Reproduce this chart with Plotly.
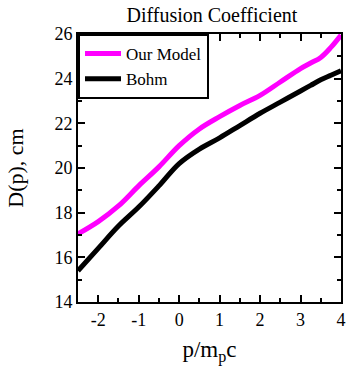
import plotly.graph_objects as go

p_values = [-2.5, -2.0, -1.5, -1.0, -0.5, 0.0, 0.5, 1.0, 1.5, 2.0, 2.5, 3.0, 3.25, 3.5, 3.75, 4.0]
our_model = [17.05, 17.6, 18.3, 19.2, 20.05, 21.0, 21.75, 22.3, 22.8, 23.25, 23.85, 24.45, 24.7, 24.95, 25.4, 25.95]
bohm = [15.4, 16.4, 17.4, 18.25, 19.2, 20.2, 20.85, 21.35, 21.9, 22.45, 22.95, 23.45, 23.7, 23.95, 24.15, 24.35]

x_ticks = [-2, -1, 0, 1, 2, 3, 4]
x_tick_labels = ["-2", "-1", "0", "1", "2", "3", "4"]
y_ticks = [14, 16, 18, 20, 22, 24, 26]
y_tick_labels = ["14", "16", "18", "20", "22", "24", "26"]

FONT = "Liberation Serif"

fig = go.Figure()
fig.add_trace(go.Scatter(x=p_values, y=our_model, mode="lines", name="Our Model",
                         line=dict(color="#ff00ff", width=5, shape="spline")))
fig.add_trace(go.Scatter(x=p_values, y=bohm, mode="lines", name="Bohm",
                         line=dict(color="black", width=5, shape="spline")))

axis_common = dict(showline=True, linewidth=2, linecolor="black", mirror="allticks",
                   ticks="inside", ticklen=7, tickwidth=2, tickcolor="black",
                   showgrid=False, zeroline=False,
                   tickfont=dict(family=FONT, size=18, color="black"))

fig.update_xaxes(range=[-2.5, 4], tickvals=x_ticks, ticktext=x_tick_labels,
                 title=dict(text="p/m<sub>p</sub>c", font=dict(family=FONT, size=23, color="black"), standoff=12),
                 minor=dict(dtick=0.5, tick0=0, ticks="inside", ticklen=4, tickwidth=2, tickcolor="black"),
                 **axis_common)
fig.update_yaxes(range=[14, 26], tickvals=y_ticks, ticktext=y_tick_labels,
                 title=dict(text="D(p), cm", font=dict(family=FONT, size=22, color="black"), standoff=25),
                 minor=dict(dtick=1, tick0=0, ticks="inside", ticklen=4, tickwidth=2, tickcolor="black"),
                 **axis_common)

fig.update_layout(
    width=352, height=366,
    margin=dict(l=78, r=6, t=34, b=64),
    plot_bgcolor="white", paper_bgcolor="white",
    title=dict(text="Diffusion Coefficient", x=0.602, xanchor="center", y=0.96, yanchor="middle",
               font=dict(family=FONT, size=20, color="black")),
    legend=dict(x=0, y=1, xanchor="left", yanchor="top", bordercolor="black", borderwidth=2,
                bgcolor="white", font=dict(family=FONT, size=17, color="black"),
                itemwidth=36, tracegroupgap=0),
    showlegend=True,
)

fig.write_html("out.html")
